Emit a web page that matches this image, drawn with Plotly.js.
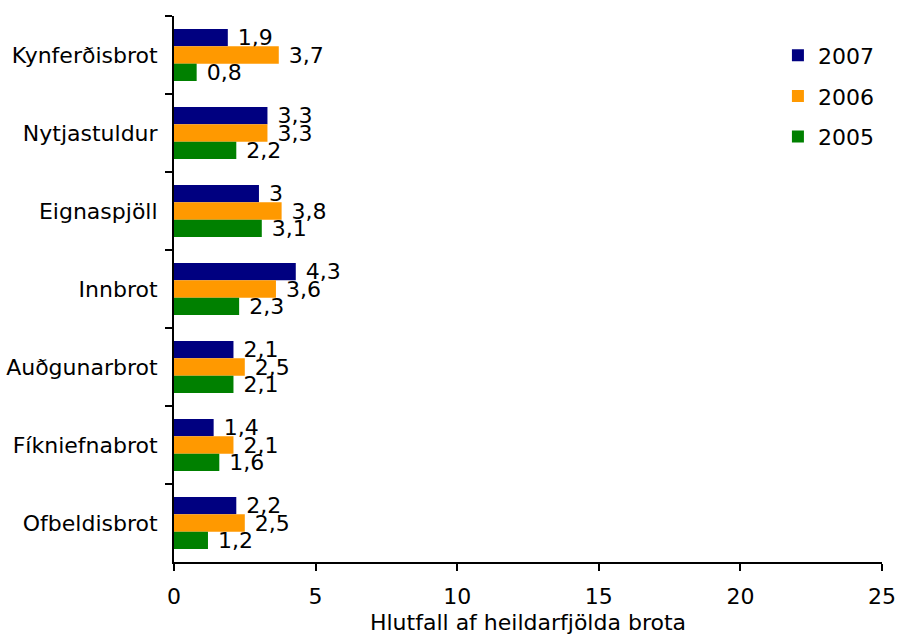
<!DOCTYPE html>
<html>
<head>
<meta charset="utf-8">
<script src="https://cdn.plot.ly/plotly-3.0.1.min.js"></script>
<style>html,body{margin:0;padding:0;background:#fff;}#chart{width:897px;height:635px;}</style>
</head>
<body>
<div id="chart"></div>
<script>
const categories = ['Kynferðisbrot','Nytjastuldur','Eignaspjöll','Innbrot','Auðgunarbrot','Fíkniefnabrot','Ofbeldisbrot'];
const seriesNames = ['2007','2006','2005'];
const values2007 = [1.9, 3.3, 3.0, 4.3, 2.1, 1.4, 2.2];
const values2006 = [3.7, 3.3, 3.8, 3.6, 2.5, 2.1, 2.5];
const values2005 = [0.8, 2.2, 3.1, 2.3, 2.1, 1.6, 1.2];
const colors = ['#000080', '#FF9900', '#008000'];
const xTicks = [0, 5, 10, 15, 20, 25];

const FONT = 'DejaVu Sans, Verdana, sans-serif';
const FS = 22;
const fmt = v => '\u00a0' + String(v).replace('.', ',');

const allValues = [values2007, values2006, values2005];
const traces = allValues.map((vals, i) => ({
  type: 'bar',
  orientation: 'h',
  name: seriesNames[i],
  legendgroup: seriesNames[i],
  y: categories,
  x: vals,
  text: vals.map(fmt),
  textposition: 'outside',
  constraintext: 'none',
  cliponaxis: false,
  textfont: {family: FONT, size: FS, color: '#000'},
  marker: {color: colors[i], line: {width: 0}},
  hoverinfo: 'none'
}));

const layout = {
  width: 897, height: 635,
  margin: {l: 174, r: 15, t: 16, b: 73},
  paper_bgcolor: '#fff', plot_bgcolor: '#fff',
  font: {family: FONT, size: FS, color: '#000'},
  barmode: 'group',
  bargap: 0.333,
  bargroupgap: 0,
  showlegend: true,
  legend: {
    x: 0.853, y: 0.966, xanchor: 'left', yanchor: 'top',
    font: {family: FONT, size: FS, color: '#000'},
    traceorder: 'grouped',
    tracegroupgap: 9,
    bgcolor: 'rgba(0,0,0,0)'
  },
  xaxis: {
    range: [0, 25],
    tickvals: xTicks,
    ticktext: xTicks.map(String),
    ticks: 'outside', ticklen: 7, tickwidth: 2, tickcolor: '#000',
    showline: true, linecolor: '#000', linewidth: 2,
    showgrid: false, zeroline: false,
    ticklabelstandoff: 7,
    title: {text: 'Hlutfall af heildarfjölda brota', font: {family: FONT, size: FS}, standoff: 15},
    fixedrange: true
  },
  yaxis: {
    type: 'category',
    categoryorder: 'array', categoryarray: categories,
    autorange: 'reversed',
    ticks: 'outside', tickson: 'boundaries', ticklen: 7, tickwidth: 2, tickcolor: '#000',
    showline: true, linecolor: '#000', linewidth: 2,
    showgrid: false, zeroline: false,
    ticklabelstandoff: 10,
    fixedrange: true
  }
};

Plotly.newPlot('chart', traces, layout, {staticPlot: true, displayModeBar: false});
</script>
</body>
</html>
